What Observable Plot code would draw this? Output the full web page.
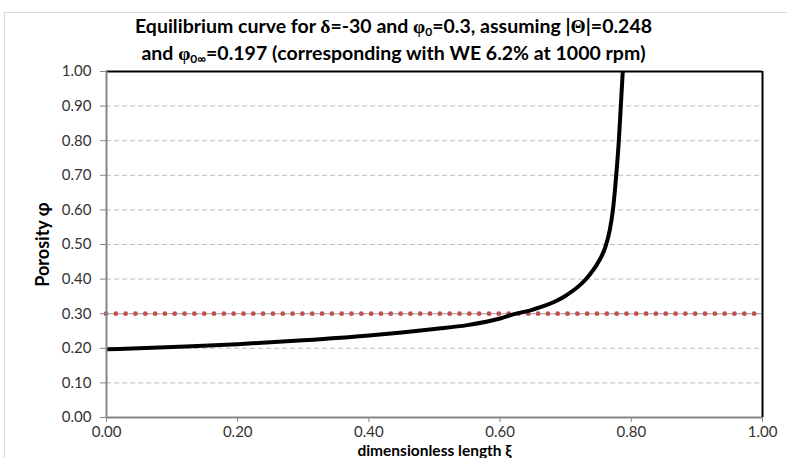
<!DOCTYPE html>
<html>
<head>
<meta charset="utf-8">
<script src="https://cdn.jsdelivr.net/npm/d3@7"></script>
<script src="https://cdn.jsdelivr.net/npm/@observablehq/plot@0.6"></script>
<style>
  html, body { margin: 0; padding: 0; background: #fff; }
  #wrap { position: relative; width: 787px; height: 458px; overflow: hidden; font-family: Lato, "Open Sans", sans-serif; }
  #area { position: absolute; left: 4px; top: 12px; width: 820px; height: 520px; border: 1px solid #d9d9d9; box-sizing: border-box; }
  #title { position: absolute; left: 0; top: 13px; width: 787px; text-align: center; font-weight: bold; font-size: 19.5px; line-height: 26px; color: #000; }
  #title sub { font-size: 12px; line-height: 0; vertical-align: -3px; }
  #title .g { font-family: "Liberation Serif", serif; }
  #chart { position: absolute; left: 0; top: 0; }
</style>
</head>
<body>
<div id="wrap">
  <div id="area"></div>
  <div id="chart"></div>
  <div id="title">Equilibrium curve for <span class="g">δ</span>=-30 and <span class="g">φ</span><sub>0</sub>=0.3, assuming |<span class="g">Θ</span>|=0.248<br>and <span class="g">φ</span><sub>0∞</sub>=0.197 (corresponding with WE 6.2% at 1000 rpm)</div>
</div>
<script>
// Equilibrium curve: porosity phi against dimensionless length xi
const xi  = [0, 0.10, 0.20, 0.30, 0.40, 0.45, 0.50, 0.55, 0.60, 0.62, 0.65, 0.687, 0.70, 0.73, 0.75, 0.760, 0.767, 0.772, 0.777, 0.781, 0.784, 0.787];
const phi = [0.197, 0.204, 0.212, 0.223, 0.237, 0.246, 0.256, 0.267, 0.286, 0.298, 0.312, 0.338, 0.352, 0.398, 0.450, 0.490, 0.540, 0.600, 0.700, 0.800, 0.900, 1.000];

// Reference porosity phi_0
const phi0 = 0.3;

// Axis ticks and gridlines
const xTicks = [0, 0.2, 0.4, 0.6, 0.8, 1.0];
const yTicks = [0, 0.1, 0.2, 0.3, 0.4, 0.5, 0.6, 0.7, 0.8, 0.9, 1.0];
const yGrid  = [0.1, 0.2, 0.3, 0.4, 0.5, 0.6, 0.7, 0.8, 0.9];

const curve = xi.map((x, i) => ({xi: x, phi: phi[i]}));
const axisGray = "#868686";

const chart = Plot.plot({
  width: 787,
  height: 458,
  marginLeft: 106,
  marginRight: 25,
  marginTop: 71,
  marginBottom: 41,
  style: {fontFamily: "Lato, 'Open Sans', sans-serif", fontSize: "15px", color: "#333", background: "transparent"},
  x: {domain: [0, 1]},
  y: {domain: [0, 1]},
  marks: [
    Plot.ruleY(yGrid, {stroke: "#bfbfbf", strokeWidth: 1, strokeDasharray: "5,3"}),
    Plot.ruleY([phi0], {stroke: "#a8a8a8", strokeWidth: 1}),
    Plot.ruleY([phi0], {stroke: "#c0504d", strokeWidth: 4.8, strokeDasharray: "0 9.82", strokeLinecap: "round"}),
    Plot.line(curve, {x: "xi", y: "phi", stroke: "#000", strokeWidth: 4, curve: "monotone-x", clip: true}),
    // top and right border
    Plot.ruleY([1], {stroke: "#000", strokeWidth: 2}),
    Plot.ruleX([1], {stroke: "#000", strokeWidth: 2}),
    // left and bottom axes
    Plot.ruleX([0], {stroke: axisGray, strokeWidth: 2}),
    Plot.ruleY([0], {stroke: axisGray, strokeWidth: 2}),
    Plot.axisY(yTicks, {tickFormat: d => d.toFixed(2), tickSize: 6, tickPadding: 9, stroke: axisGray, fill: "#333", fontSize: 15, label: null}),
    Plot.axisX(xTicks, {tickFormat: d => d.toFixed(2), tickSize: 5, tickPadding: 4, stroke: axisGray, fill: "#333", fontSize: 15, label: null}),
    Plot.text(["Porosity φ"], {frameAnchor: "left", dx: -63, rotate: -90, textAnchor: "middle", fontWeight: "bold", fontSize: 18, fill: "#000"}),
    Plot.text(["dimensionless length ξ"], {frameAnchor: "bottom", dy: 38, fontWeight: "bold", fontSize: 15.5, fill: "#000"})
  ]
});
document.getElementById("chart").appendChild(chart);
</script>
</body>
</html>
